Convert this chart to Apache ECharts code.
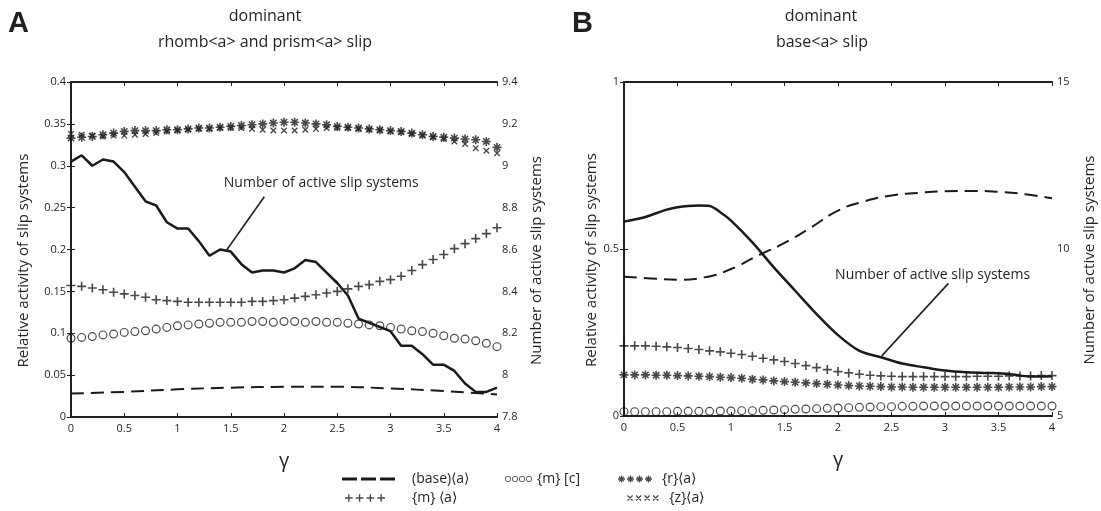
<!DOCTYPE html>
<html>
<head>
<meta charset="utf-8">
<script src="https://cdn.jsdelivr.net/npm/echarts@6/dist/echarts.min.js"></script>
<style>
html, body { margin: 0; padding: 0; background: #fff; }
#main { width: 1101px; height: 511px; }
</style>
</head>
<body>
<div id="main"></div>
<script>
// shear strain γ (markers every 0.1)
const gamma = [0,0.1,0.2,0.3,0.4,0.5,0.6,0.7,0.8,0.9,1,1.1,1.2,1.3,1.4,1.5,1.6,1.7,1.8,1.9,2,2.1,2.2,2.3,2.4,2.5,2.6,2.7,2.8,2.9,3,3.1,3.2,3.3,3.4,3.5,3.6,3.7,3.8,3.9,4];

// ---- panel A : dominant rhomb<a> and prism<a> slip ----
const numA   = [9.02,9.05,9.00,9.03,9.02,8.97,8.90,8.83,8.81,8.73,8.70,8.70,8.64,8.57,8.60,8.59,8.53,8.49,8.50,8.50,8.49,8.51,8.55,8.54,8.49,8.44,8.38,8.27,8.25,8.23,8.21,8.14,8.14,8.10,8.05,8.05,8.02,7.96,7.92,7.92,7.94];
const starA  = [0.333,0.334,0.335,0.337,0.339,0.341,0.342,0.342,0.342,0.343,0.343,0.344,0.345,0.345,0.346,0.347,0.348,0.349,0.350,0.351,0.352,0.352,0.351,0.350,0.349,0.347,0.346,0.345,0.344,0.343,0.342,0.341,0.339,0.337,0.335,0.334,0.333,0.332,0.331,0.329,0.322];
const crossA = [0.338,0.337,0.336,0.335,0.336,0.336,0.337,0.338,0.339,0.341,0.342,0.343,0.344,0.344,0.345,0.345,0.345,0.344,0.343,0.342,0.342,0.342,0.343,0.344,0.345,0.345,0.345,0.344,0.343,0.342,0.341,0.340,0.338,0.336,0.334,0.332,0.329,0.326,0.321,0.318,0.315];
const plusA  = [0.157,0.156,0.154,0.152,0.149,0.147,0.145,0.143,0.140,0.139,0.138,0.137,0.137,0.137,0.137,0.137,0.137,0.138,0.138,0.139,0.140,0.142,0.144,0.146,0.148,0.150,0.153,0.156,0.158,0.162,0.164,0.168,0.175,0.182,0.188,0.194,0.201,0.207,0.213,0.219,0.226];
const ringA  = [0.094,0.095,0.096,0.098,0.099,0.101,0.102,0.103,0.105,0.107,0.109,0.110,0.111,0.112,0.113,0.113,0.113,0.114,0.114,0.113,0.114,0.114,0.113,0.114,0.113,0.113,0.112,0.111,0.110,0.109,0.107,0.105,0.103,0.102,0.100,0.097,0.094,0.093,0.091,0.088,0.084];
const baseGammaA = [0,0.5,1,1.5,2,2.5,3,3.5,4];
const baseA      = [0.028,0.030,0.033,0.035,0.036,0.036,0.034,0.031,0.027];

// ---- panel B : dominant base<a> slip ----
const numGammaB = [0,0.2,0.4,0.5,0.6,0.7,0.8,0.9,1,1.2,1.4,1.6,1.8,2,2.2,2.4,2.6,2.8,3,3.2,3.4,3.6,3.8,4];
const numB      = [10.82,10.96,11.18,11.25,11.29,11.30,11.29,11.10,10.85,10.20,9.45,8.75,8.05,7.42,6.95,6.76,6.57,6.46,6.36,6.31,6.29,6.26,6.18,6.19];
const baseGammaB = [0,0.25,0.5,0.75,1,1.25,1.5,1.75,2,2.25,2.5,2.75,3,3.25,3.5,3.75,4];
const baseB      = [0.417,0.412,0.408,0.415,0.440,0.480,0.518,0.565,0.615,0.643,0.660,0.668,0.673,0.674,0.671,0.664,0.652];
const plusB = [0.210,0.210,0.210,0.209,0.207,0.205,0.202,0.199,0.195,0.192,0.188,0.184,0.179,0.173,0.168,0.163,0.157,0.151,0.145,0.139,0.133,0.129,0.125,0.122,0.120,0.119,0.118,0.118,0.118,0.118,0.118,0.118,0.118,0.119,0.119,0.119,0.120,0.120,0.120,0.121,0.121];
const starB = [0.123,0.123,0.123,0.122,0.122,0.121,0.120,0.119,0.118,0.116,0.115,0.113,0.110,0.108,0.105,0.103,0.101,0.099,0.097,0.095,0.093,0.091,0.090,0.089,0.088,0.087,0.087,0.086,0.086,0.086,0.086,0.086,0.086,0.086,0.086,0.086,0.087,0.087,0.087,0.088,0.088];
const ringB = [0.013,0.013,0.013,0.013,0.013,0.014,0.014,0.014,0.014,0.015,0.015,0.016,0.016,0.017,0.018,0.019,0.020,0.021,0.022,0.023,0.024,0.025,0.026,0.027,0.028,0.028,0.029,0.029,0.030,0.030,0.030,0.030,0.030,0.030,0.030,0.030,0.030,0.030,0.030,0.030,0.030];

const NAME_BASE = '(base)⟨a⟩', NAME_RING = '{m} [c]', NAME_STAR = '{r}⟨a⟩', NAME_PLUS = '{m} ⟨a⟩', NAME_CROSS = '{z}⟨a⟩';

const INK = '#231f20';
const MARK = '#1c1c1c';
const FONT = 'Open Sans';

// marker shapes, drawn as filled paths (10x10 box)
function plusAt(dx) { return `M${dx + 4.1},0h1.8v10h-1.8z M${dx},4.1h10v1.8h-10z`; }
function diagAt(dx) { return `M${dx + 0.9},2.1L${dx + 2.1},0.9L${dx + 9.1},7.9L${dx + 7.9},9.1z M${dx + 7.9},0.9L${dx + 9.1},2.1L${dx + 2.1},9.1L${dx + 0.9},7.9z`; }
function ringAt(dx) { return `M${dx},5a5,5 0 1,0 10,0a5,5 0 1,0 -10,0z M${dx + 1.3},5a3.7,3.7 0 1,1 7.4,0a3.7,3.7 0 1,1 -7.4,0z`; }
function starAt(dx) { return plusAt(dx) + ' ' + diagAt(dx); }
function repeat(fn, n, step) {
  let s = [];
  for (let i = 0; i < n; i++) s.push(fn(i * step));
  return 'path://' + s.join(' ');
}

function pairs(xs, ys) { return xs.map((x, i) => [x, ys[i]]); }

function markerSeries(name, xi, yi, ys, symbol, size) {
  return {
    name: name, type: 'scatter', xAxisIndex: xi, yAxisIndex: yi,
    symbol: 'path://' + symbol, symbolSize: size,
    itemStyle: { color: MARK }, silent: true, z: 3,
    data: pairs(gamma, ys),
  };
}

function axisLineStyle() { return { show: true, lineStyle: { color: INK, width: 2 } }; }

function xAxes(grid) {
  return [
    {
      type: 'value', gridIndex: grid, min: 0, max: 4, interval: 0.5,
      name: 'γ', nameLocation: 'middle', nameGap: 34,
      nameTextStyle: { fontFamily: FONT, fontSize: 20, color: INK },
      axisLine: axisLineStyle(),
      axisTick: { inside: true, length: 4, lineStyle: { color: INK } },
      axisLabel: { fontFamily: FONT, fontSize: 11, color: INK, margin: 6 },
      splitLine: { show: false },
    },
    {
      type: 'value', gridIndex: grid, position: 'top', min: 0, max: 4, interval: 0.5,
      axisLine: axisLineStyle(),
      axisTick: { inside: true, length: 4, lineStyle: { color: INK } },
      axisLabel: { show: false }, splitLine: { show: false },
    },
  ];
}

function yAxis(grid, pos, min, max, step, name, gap) {
  return {
    type: 'value', gridIndex: grid, position: pos, min: min, max: max, interval: step,
    name: name, nameLocation: 'middle', nameGap: gap,
    nameTextStyle: { fontFamily: FONT, fontSize: 15, color: INK, padding: [0, 22, 0, 0] },
    axisLine: axisLineStyle(),
    axisTick: { inside: true, length: 4, lineStyle: { color: INK } },
    axisLabel: { fontFamily: FONT, fontSize: 11, color: INK, margin: 5 },
    splitLine: { show: false },
  };
}

function pointer(from, to, textAt) {
  return {
    markLine: {
      silent: true, symbol: ['none', 'none'], label: { show: false },
      lineStyle: { color: INK, width: 1.6, type: 'solid' },
      data: [[{ coord: from }, { coord: to }]],
    },
    markPoint: {
      silent: true,
      data: [{
        coord: textAt, symbol: 'rect', symbolSize: 1, itemStyle: { color: 'transparent' },
        label: { show: true, position: 'inside', formatter: 'Number of active slip systems',
                 fontFamily: FONT, fontSize: 14, color: INK },
      }],
    },
  };
}

function legendItem(name, icon, w, h, left, top, pad) {
  return {
    data: [{ name: name, icon: icon }],
    left: left, top: top, padding: 0,
    itemWidth: w, itemHeight: h, selectedMode: false,
    textStyle: { fontFamily: FONT, fontSize: 14, color: INK, padding: [0, 0, 0, pad] },
  };
}

const chart = echarts.init(document.getElementById('main'));

const option = {
  backgroundColor: '#fff',
  animation: false,
  grid: [
    { left: 71, top: 82, width: 426, height: 335 },
    { left: 624, top: 82, width: 428, height: 334 },
  ],
  xAxis: [...xAxes(0), ...xAxes(1)],
  yAxis: [
    yAxis(0, 'left', 0, 0.4, 0.05, 'Relative activity of slip systems', 40),
    yAxis(0, 'right', 7.8, 9.4, 0.2, 'Number of active slip systems', 32),
    yAxis(1, 'left', 0, 1, 0.5, 'Relative activity of slip systems', 24),
    yAxis(1, 'right', 5, 15, 5, 'Number of active slip systems', 30),
  ],
  graphic: [
    { type: 'text', left: 8, top: 9, style: { text: 'A', font: 'bold 29px "Liberation Sans"', fill: INK } },
    { type: 'text', left: 572, top: 9, style: { text: 'B', font: 'bold 29px "Liberation Sans"', fill: INK } },
    { type: 'text', x: 265, y: 16, style: { text: 'dominant', font: '16px "Open Sans"', fill: INK, align: 'center', verticalAlign: 'middle' } },
    { type: 'text', x: 265, y: 42, style: { text: 'rhomb<a> and prism<a> slip', font: '16px "Open Sans"', fill: INK, align: 'center', verticalAlign: 'middle' } },
    { type: 'text', x: 821, y: 16, style: { text: 'dominant', font: '16px "Open Sans"', fill: INK, align: 'center', verticalAlign: 'middle' } },
    { type: 'text', x: 822, y: 42, style: { text: 'base<a> slip', font: '16px "Open Sans"', fill: INK, align: 'center', verticalAlign: 'middle' } },
  ],
  legend: [
    legendItem(NAME_BASE, 'path://M0,0h15v3h-15z M19,0h15v3h-15z M38,0h15v3h-15z', 53, 3, 342, 472, 12),
    legendItem(NAME_RING, repeat(ringAt, 4, 11.7), 27, 6, 505, 472, 0),
    legendItem(NAME_STAR, repeat(starAt, 4, 12.9), 34, 7, 618, 472, 5),
    legendItem(NAME_PLUS, repeat(plusAt, 4, 14), 40, 8, 345, 491, 22),
    legendItem(NAME_CROSS, repeat(diagAt, 4, 11.7), 33, 6, 627, 491, 5),
  ],
  series: [
    // panel A
    Object.assign({
      name: 'Number A', type: 'line', xAxisIndex: 0, yAxisIndex: 1,
      symbol: 'none', silent: true, z: 4,
      lineStyle: { color: '#1a1a1a', width: 2.5 }, itemStyle: { color: '#1a1a1a' },
      data: pairs(gamma, numA),
    }, pointer([1.815, 8.852], [1.462, 8.598], [2.35, 8.918])),
    {
      name: NAME_BASE, type: 'line', xAxisIndex: 0, yAxisIndex: 0,
      symbol: 'none', smooth: true, silent: true,
      lineStyle: { color: '#1a1a1a', width: 2, type: [13, 7] }, itemStyle: { color: '#1a1a1a' },
      data: pairs(baseGammaA, baseA),
    },
    markerSeries(NAME_RING, 0, 0, ringA, ringAt(0), 9),
    markerSeries(NAME_PLUS, 0, 0, plusA, plusAt(0), 9),
    markerSeries(NAME_STAR, 0, 0, starA, starAt(0), 9),
    markerSeries(NAME_CROSS, 0, 0, crossA, diagAt(0), 6.5),
    // panel B
    Object.assign({
      name: 'Number B', type: 'line', xAxisIndex: 2, yAxisIndex: 3,
      symbol: 'none', smooth: 0.3, silent: true, z: 4,
      lineStyle: { color: '#1a1a1a', width: 2.5 }, itemStyle: { color: '#1a1a1a' },
      data: pairs(numGammaB, numB),
    }, pointer([3.032, 8.97], [2.409, 6.80], [2.884, 9.22])),
    {
      name: NAME_BASE, type: 'line', xAxisIndex: 2, yAxisIndex: 2,
      symbol: 'none', smooth: true, silent: true,
      lineStyle: { color: '#1a1a1a', width: 2, type: [13, 7] }, itemStyle: { color: '#1a1a1a' },
      data: pairs(baseGammaB, baseB),
    },
    markerSeries(NAME_RING, 2, 2, ringB, ringAt(0), 9),
    markerSeries(NAME_PLUS, 2, 2, plusB, plusAt(0), 9),
    markerSeries(NAME_STAR, 2, 2, starB, starAt(0), 9),
  ],
};

chart.setOption(option);
</script>
</body>
</html>
